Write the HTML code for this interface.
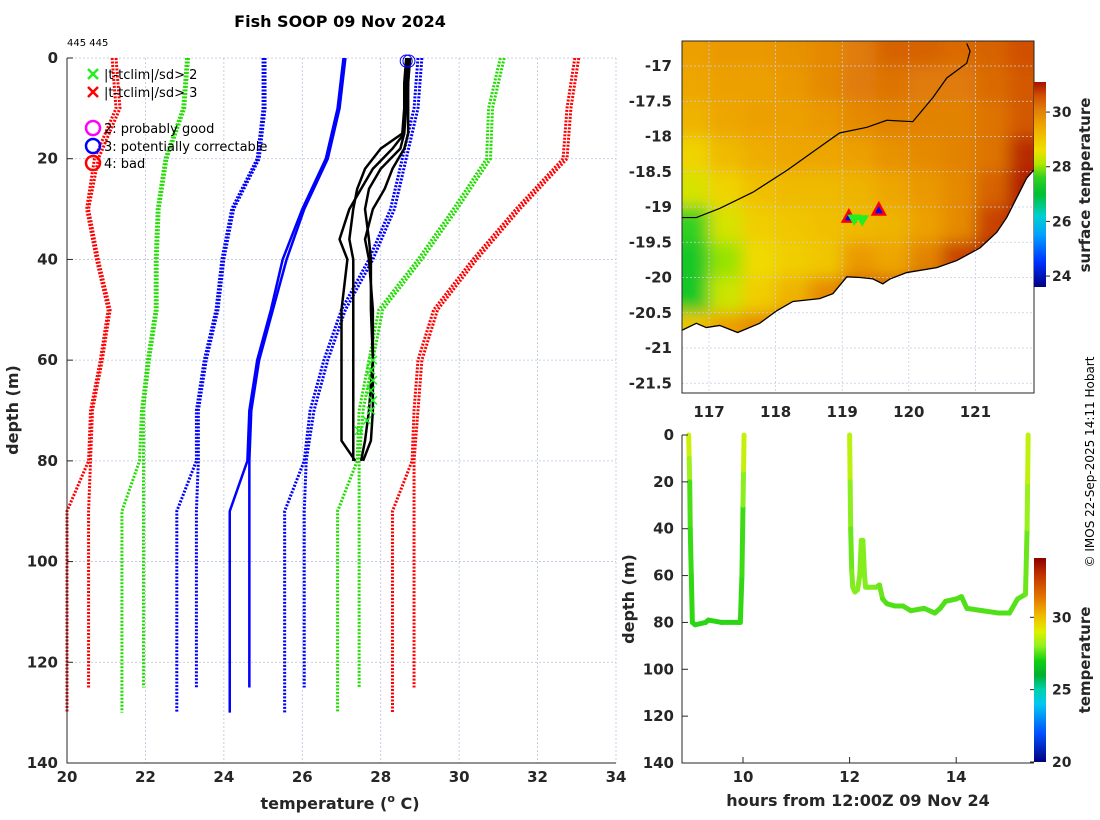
<!DOCTYPE html>
<html><head><meta charset="utf-8">
<style>
body{margin:0;background:#fff;}
svg{display:block;font-family:"DejaVu Sans","Liberation Sans",sans-serif;}
.tk{font-size:15px;font-weight:bold;fill:#262626;}
.lg{font-size:13px;fill:#000;}
</style></head>
<body>
<svg id="fig" width="1100" height="820" viewBox="0 0 1100 820" xmlns="http://www.w3.org/2000/svg">
<defs>
<clipPath id="mapclip"><rect x="682" y="41" width="352" height="352"/></clipPath>
<filter id="blur" x="-10%" y="-10%" width="120%" height="120%"><feGaussianBlur stdDeviation="8"/></filter>
<linearGradient id="cb1" x1="0" y1="1" x2="0" y2="0"></linearGradient>
<linearGradient id="cb2" x1="0" y1="1" x2="0" y2="0"></linearGradient>
</defs>
<text x="340" y="27" text-anchor="middle" style="font-size:16px;font-weight:bold">Fish SOOP 09 Nov 2024</text>
<text x="67" y="46" style="font-size:10px">445 445</text>
<g id="left"></g>
<g id="map"></g>
<g id="track"></g>
<text transform="translate(1094,462) rotate(-90)" text-anchor="middle" style="font-size:12px">© IMOS 22-Sep-2025 14:11 Hobart</text>
</svg>
<script>
// ---------- DATA: profile plot ----------
const climDepths = [0,10,20,30,40,50,60,70,80,90];
const redLoA = [21.15,21.25,20.7,20.5,20.75,21.05,20.85,20.6,20.55,20.0];
const redLoB = [21.25,21.35,20.8,20.55,20.8,21.1,20.9,20.65,20.6,20.55];
const grnLoA = [23.05,22.95,22.5,22.3,22.25,22.25,22.05,21.9,21.85,21.4];
const grnLoB = [23.1,23.0,22.55,22.35,22.3,22.3,22.1,21.95,21.95,21.95];
const bluLoA = [25.0,25.0,24.85,24.2,23.95,23.8,23.5,23.3,23.3,22.8];
const bluLoB = [25.05,25.05,24.9,24.25,24.0,23.85,23.55,23.35,23.35,23.3];
const meanA = [27.05,26.9,26.6,26.0,25.5,25.2,24.85,24.65,24.6,24.15];
const meanB = [27.1,26.95,26.65,26.05,25.6,25.25,24.9,24.7,24.65,24.65];
const bluHiA = [28.95,28.85,28.55,28.25,27.7,27.0,26.55,26.2,26.05,25.55];
const bluHiB = [29.05,28.95,28.65,28.35,27.8,27.1,26.65,26.3,26.1,26.05];
const grnHiA = [31.05,30.75,30.7,29.85,28.95,27.95,27.7,27.45,27.4,26.9];
const grnHiB = [31.15,30.85,30.8,29.95,29.05,28.05,27.8,27.55,27.45,27.45];
const redHiA = [32.95,32.75,32.65,31.45,30.35,29.35,28.95,28.85,28.8,28.3];
const redHiB = [33.05,32.85,32.75,31.55,30.45,29.45,29.05,28.95,28.85,28.85];
const climBottomA = 130, climBottomB = 125;
const profDepths = [0,5,10,15,18,22,26,30,36,40,50,60,70,76,80];
const prof1 = [28.65,28.6,28.6,28.6,28.3,27.8,27.5,27.2,26.95,27.15,27.0,27.0,27.0,27.0,27.35];
const prof2 = [28.7,28.65,28.6,28.55,28.0,27.6,27.4,27.3,27.2,27.3,27.3,27.3,27.3,27.3,27.3];
const prof3 = [28.7,28.7,28.65,28.6,28.5,28.0,27.7,27.6,27.7,27.75,27.75,27.8,27.7,27.6,27.5];
const prof4 = [28.75,28.7,28.7,28.7,28.6,28.3,28.1,27.8,27.6,27.7,27.8,27.8,27.8,27.75,27.55];
const flagDepths = [60,62,64,66,68,70,72,74];
const flagTemps = [27.8,27.75,27.8,27.75,27.8,27.75,27.65,27.45];
const xTicks = [20,22,24,26,28,30,32,34];
const yTicks = [0,20,40,60,80,100,120,140];

// ---------- DATA: map ----------
const mapLats = [-16.75,-17.25,-17.75,-18.25,-18.75,-19.25,-19.75,-20.25,-20.75];
const mapLons = [116.75,117.25,117.75,118.25,118.75,119.25,119.75,120.25,120.75,121.25,121.75];
const sstRows = [
 [29.6,29.7,29.7,29.8,29.9,30.1,30.4,30.4,30.3,30.4,30.6],
 [29.5,29.6,29.6,29.7,29.9,30.1,30.2,30.1,30.1,30.3,30.5],
 [29.3,29.5,29.6,29.6,29.7,29.9,30.0,30.0,30.0,30.2,30.5],
 [28.8,29.2,29.4,29.5,29.5,29.6,29.8,29.9,30.0,30.2,30.9],
 [28.4,28.8,29.1,29.2,29.2,29.3,29.5,29.7,29.9,30.4,31.0],
 [27.6,28.4,28.9,29.0,29.1,29.2,29.3,29.6,29.9,30.7,31.0],
 [27.3,28.0,28.7,28.9,29.0,29.7,29.5,30.0,30.7,31.0,31.0],
 [27.3,28.3,28.9,29.3,29.9,30.5,30.6,30.9,31.0,31.0,31.0],
 [29.0,29.6,29.9,30.3,30.6,30.7,30.9,31.0,31.0,31.0,31.0]];
const coastLon = [116.59,116.81,116.96,117.16,117.43,117.76,118.02,118.26,118.66,118.86,119.07,119.27,119.46,119.61,119.72,119.97,120.42,120.72,121.07,121.32,121.47,121.62,121.77,121.89];
const coastLat = [-20.75,-20.65,-20.71,-20.68,-20.78,-20.65,-20.47,-20.34,-20.30,-20.23,-19.99,-20.0,-20.02,-20.09,-20.02,-19.93,-19.86,-19.76,-19.58,-19.36,-19.15,-18.87,-18.59,-18.46];
const isoLon = [116.59,116.81,117.16,117.66,118.17,118.66,118.96,119.37,119.67,120.06,120.36,120.57,120.87,120.92,120.87];
const isoLat = [-19.15,-19.15,-19.02,-18.79,-18.48,-18.15,-17.95,-17.87,-17.77,-17.79,-17.45,-17.17,-16.96,-16.79,-16.68];
const shipLon = [119.1,119.55,119.3,119.18];
const shipLat = [-19.15,-19.05,-19.18,-19.17];
const lonTicks = [117,118,119,120,121];
const latTicks = [-17,-17.5,-18,-18.5,-19,-19.5,-20,-20.5,-21,-21.5];
const sstTicks = [24,26,28,30];

// ---------- DATA: depth-time track ----------
const trackHours = [8.98,8.99,9.0,9.01,9.03,9.05,9.1,9.3,9.35,9.6,9.9,9.95,9.98,10.0,10.01,10.02,
 12.0,12.01,12.02,12.04,12.06,12.1,12.15,12.19,12.22,12.25,12.28,12.3,12.35,12.5,12.56,12.62,12.7,12.85,13.0,13.15,13.4,13.6,13.7,13.8,14.0,14.1,14.2,14.5,14.8,15.0,15.15,15.3,15.33,15.34,15.35];
const trackDepth = [0,10,20,40,60,80,81,80,79,80,80,80,60,30,15,0,
 0,20,40,58,65,67,66,60,45,45,60,65,65,65,64,70,72,73,73,75,74,76,74,71,70,69,74,75,76,76,70,68,40,20,0];
const trackTemp = [28.8,28.7,27.6,27.3,27.3,27.2,27.2,27.2,27.2,27.2,27.2,27.2,27.3,27.4,28.5,28.8,
 28.8,28.3,27.6,27.8,27.9,27.9,27.9,27.9,27.9,27.9,27.9,27.9,27.9,27.8,27.8,27.6,27.5,27.5,27.5,27.5,27.5,27.5,27.5,27.5,27.5,27.5,27.5,27.5,27.5,27.5,27.6,27.6,27.8,28.4,28.8];
const hourTicks = [10,12,14];
const tTicks = [20,25,30];

// ---------- helpers ----------
const NS = "http://www.w3.org/2000/svg";
function mk(parent, tag, attrs, text){
  const e = document.createElementNS(NS, tag);
  for (const k in attrs) e.setAttribute(k, attrs[k]);
  if (text !== undefined) e.textContent = text;
  parent.appendChild(e);
  return e;
}
function lerpColor(stops, v){
  if (v <= stops[0][0]) return stops[0][1];
  for (let i=1;i<stops.length;i++){
    if (v <= stops[i][0]){
      const [a,ca]=stops[i-1],[b,cb]=stops[i];
      const t=(v-a)/(b-a);
      const p=c=>[parseInt(c.slice(1,3),16),parseInt(c.slice(3,5),16),parseInt(c.slice(5,7),16)];
      const A=p(ca),B=p(cb);
      return "rgb("+A.map((x,j)=>Math.round(x+(B[j]-x)*t)).join(",")+")";
    }
  }
  return stops[stops.length-1][1];
}
const sstStops=[[23.6,"#00007f"],[24.5,"#0030ff"],[25.5,"#00a0ff"],[26.2,"#00d0d0"],[27,"#00c030"],[27.6,"#30d020"],[28.1,"#b0e800"],[28.6,"#f0e000"],[29.1,"#f0c000"],[29.6,"#eca000"],[30.1,"#e07c08"],[30.6,"#d05000"],[31.1,"#a81000"]];
const tStops=[[20,"#000080"],[22,"#0050ff"],[24,"#00c8f0"],[25,"#00d0b0"],[26,"#00b030"],[27,"#10d010"],[28,"#90f020"],[29,"#e0f000"],[30,"#f0c000"],[31.5,"#e07000"],[33,"#c03000"],[34.1,"#8b0000"]];

// ---------- LEFT: profile plot ----------
const L = document.getElementById('left');
const px = t => 67 + (t-20)*(616-67)/14;
const py = d => 58 + d*(763-58)/140;
xTicks.forEach(t=>{
  let g=mk(L,'line',{x1:px(t),x2:px(t),y1:58,y2:763,stroke:'#b8c4dc','stroke-width':0.8,'stroke-dasharray':'2,2'});
  
  
  let tl=mk(L,'text',{x:px(t),y:782,'text-anchor':'middle',class:'tk'},String(t));
  
  
});
yTicks.forEach(d=>{
  let g=mk(L,'line',{x1:67,x2:616,y1:py(d),y2:py(d),stroke:'#b8c4dc','stroke-width':0.8,'stroke-dasharray':'2,2'});
  
  
  let tk=mk(L,'line',{x1:67,x2:73,y1:py(d),y2:py(d),stroke:'#262626'});
  
  
  let tl=mk(L,'text',{x:58,y:py(d)+5,'text-anchor':'end',class:'tk'},String(d));
  
  
});
const climSets=[[redLoA,redLoB,'#ff0000'],[grnLoA,grnLoB,'#22dd00'],[bluLoA,bluLoB,'#0000ff'],[meanA,meanB,'#0000ff',true],[bluHiA,bluHiB,'#0000ff'],[grnHiA,grnHiB,'#22dd00'],[redHiA,redHiB,'#ff0000']];
climSets.forEach(([A,B,col,solid])=>{
  [[A,climBottomA],[B,climBottomB]].forEach(([arr,bot])=>{
    let pts=climDepths.map((d,i)=>px(arr[i])+','+py(d));
    pts.push(px(arr[arr.length-1])+','+py(bot));
    let pl=mk(L,'polyline',{points:pts.join(' '),fill:'none',stroke:col,'stroke-width':solid?2.5:3,'stroke-dasharray':solid?'none':'2,1.5'});
    
    
  });
});
[prof1,prof2,prof3,prof4].forEach(p=>{
  let pl=mk(L,'polyline',{points:profDepths.map((d,i)=>px(p[i])+','+py(d)).join(' '),fill:'none',stroke:'#000','stroke-width':2.5,'stroke-linejoin':'round'});
  
  
});
flagDepths.forEach((d,i)=>{
  const x=px(flagTemps[i]),y=py(d);
  let m=mk(L,'path',{d:`M${x-4},${y-4}L${x+4},${y+4}M${x-4},${y+4}L${x+4},${y-4}`,stroke:'#22ee22','stroke-width':1.5});
  
  
});
[28.65,28.72].forEach(t=>{
  let c=mk(L,'circle',{cx:px(t),cy:py(0.6),r:6,fill:'none',stroke:'#0000ff','stroke-width':1});
  
  
});
let lbox=mk(L,'path',{d:'M67,58V763H616',fill:'none',stroke:'#262626','stroke-width':1});


const legend=[['x','#22ee22','|t-tclim|/sd> 2',74],['x','#ff0000','|t-tclim|/sd> 3',92],['o','#ff00ff','2: probably good',128],['o','#0000ff','3: potentially correctable',146],['o','#ff0000','4: bad',163]];
legend.forEach(([s,c,t,y])=>{
  const x=93;
  let m;
  if(s==='x') m=mk(L,'path',{d:`M${x-5},${y-5}L${x+5},${y+5}M${x-5},${y+5}L${x+5},${y-5}`,stroke:c,'stroke-width':2.5});
  else m=mk(L,'circle',{cx:x,cy:y,r:7,fill:'none',stroke:c,'stroke-width':2.5});
  
  
  let tx=mk(L,'text',{x:104,y:y+5,class:'lg'},t);
  
  
});
let xl=mk(L,'text',{x:340,y:809,'text-anchor':'middle',style:'font-size:16px;font-weight:bold;fill:#262626'});
xl.innerHTML='temperature (<tspan dy="-7" font-size="11">o</tspan><tspan dy="7"> C)</tspan>';


let yl=mk(L,'text',{transform:'translate(18,410) rotate(-90)','text-anchor':'middle',style:'font-size:16px;font-weight:bold;fill:#262626'},'depth (m)');



// ---------- MAP ----------
const M=document.getElementById('map');
const mx = lon => 709 + (lon-117)*66.6;
const my = lat => 66 + (-17-lat)*70.5;
const mg=mk(M,'g',{'clip-path':'url(#mapclip)'});
let bgr=mk(mg,'rect',{x:682,y:41,width:352,height:352,fill:'#e08010'});


const cells=mk(mg,'g',{filter:'url(#blur)'});
sstRows.forEach((row,ri)=>{
  row.forEach((v,ci)=>{
    let x0=mx(mapLons[ci]-0.25),x1=mx(mapLons[ci]+0.25),y0=my(mapLats[ri]+0.25),y1=my(mapLats[ri]-0.25);
    if(ci===0) x0-=30; if(ci===row.length-1) x1+=30; if(ri===0) y0-=30; if(ri===sstRows.length-1) y1+=30;
    let r=mk(cells,'rect',{x:x0,y:y0,width:x1-x0+0.5,height:y1-y0+0.5,fill:lerpColor(sstStops,v)});
    
    
  });
});
let landPts=coastLon.map((l,i)=>mx(l)+','+my(coastLat[i])).join(' ');
let land=mk(mg,'polygon',{points:landPts+' 1040,400 676,400',fill:'#fff'});


lonTicks.forEach(l=>{
  let g=mk(mg,'line',{x1:mx(l),x2:mx(l),y1:41,y2:393,stroke:'#c8cfe4','stroke-width':0.8,'stroke-dasharray':'2,2'});
  
  
});
latTicks.forEach(l=>{
  let g=mk(mg,'line',{x1:682,x2:1034,y1:my(l),y2:my(l),stroke:'#c8cfe4','stroke-width':0.8,'stroke-dasharray':'2,2'});
  
  
});
let coast=mk(mg,'polyline',{points:landPts,fill:'none',stroke:'#000','stroke-width':1.3});


let iso=mk(mg,'polyline',{points:isoLon.map((l,i)=>mx(l)+','+my(isoLat[i])).join(' '),fill:'none',stroke:'#000','stroke-width':1.2});


shipLon.forEach((l,i)=>{
  const x=mx(l),y=my(shipLat[i]);
  let m;
  if(i<2) m=mk(M,'path',{d:`M${x},${y-7}L${x+6},${y+4}L${x-6},${y+4}Z`,fill:'#0000ff',stroke:'#ff0000','stroke-width':2.5});
  else m=mk(M,'path',{d:`M${x},${y+6}L${x+6},${y-4}L${x-6},${y-4}Z`,fill:'#22ee22',stroke:'#22ee22','stroke-width':1});
  
  
});
let mframe=mk(M,'rect',{x:682,y:41,width:352,height:352,fill:'none',stroke:'#262626','stroke-width':1});


lonTicks.forEach(l=>{
  let t=mk(M,'text',{x:mx(l),y:417,'text-anchor':'middle',class:'tk'},String(l));
  
  
});
latTicks.forEach(l=>{
  let t=mk(M,'text',{x:672,y:my(l)+5,'text-anchor':'end',class:'tk'},String(l));
  
  
});
// SST colorbar
const g1=document.getElementById('cb1');
sstStops.forEach(([v,c])=>mk(g1,'stop',{offset:((v-23.6)/(31.1-23.6)),'stop-color':c}));
const sy=v=>287-(v-23.6)*(287-82)/(31.1-23.6);
let cb=mk(M,'rect',{x:1034,y:82,width:12,height:205,fill:'url(#cb1)'});


sstTicks.forEach(v=>{
  mk(M,'line',{x1:1046,x2:1050,y1:sy(v),y2:sy(v),stroke:'#262626'});
  let t=mk(M,'text',{x:1052,y:sy(v)+5,class:'tk',style:'font-size:14px'},String(v));
  
  
});
let sl=mk(M,'text',{transform:'translate(1090,185) rotate(-90)','text-anchor':'middle',style:'font-size:15px;font-weight:bold;fill:#262626'},'surface temperature');



// ---------- TRACK ----------
const T=document.getElementById('track');
const tx=h=>743+(h-10)*53.3;
const ty=d=>435+d*(763-435)/140;
for(let i=0;i<trackHours.length-1;i++){
  if(trackHours[i+1]-trackHours[i]>1) continue;
  let s=mk(T,'line',{x1:tx(trackHours[i]),y1:ty(trackDepth[i]),x2:tx(trackHours[i+1]),y2:ty(trackDepth[i+1]),stroke:lerpColor(tStops,(trackTemp[i]+trackTemp[i+1])/2),'stroke-width':5,'stroke-linecap':'round'});
  
  
}
let tax=mk(T,'path',{d:'M682,435V763H1034',fill:'none',stroke:'#262626','stroke-width':1});


yTicks.forEach(d=>{
  mk(T,'line',{x1:682,x2:688,y1:ty(d),y2:ty(d),stroke:'#262626'});
  let t=mk(T,'text',{x:674,y:ty(d)+5,'text-anchor':'end',class:'tk'},String(d));
  
  
});
hourTicks.forEach(h=>{
  mk(T,'line',{x1:tx(h),x2:tx(h),y1:763,y2:757,stroke:'#262626'});
  let t=mk(T,'text',{x:tx(h),y:782,'text-anchor':'middle',class:'tk'},String(h));
  
  
});
let txl=mk(T,'text',{x:858,y:806,'text-anchor':'middle',style:'font-size:16px;font-weight:bold;fill:#262626'},'hours from 12:00Z 09 Nov 24');


let tyl=mk(T,'text',{transform:'translate(634,599) rotate(-90)','text-anchor':'middle',style:'font-size:16px;font-weight:bold;fill:#262626'},'depth (m)');


const g2=document.getElementById('cb2');
tStops.forEach(([v,c])=>mk(g2,'stop',{offset:((v-20)/(34.1-20)),'stop-color':c}));
const cy2=v=>762-(v-20)*(762-558)/(34.1-20);
let cb2=mk(T,'rect',{x:1034,y:558,width:12,height:204,fill:'url(#cb2)'});


tTicks.forEach(v=>{
  mk(T,'line',{x1:1030,x2:1034,y1:cy2(v),y2:cy2(v),stroke:'#262626'});
  let t=mk(T,'text',{x:1052,y:cy2(v)+5,class:'tk',style:'font-size:14px'},String(v));
  
  
});
let tl2=mk(T,'text',{transform:'translate(1090,660) rotate(-90)','text-anchor':'middle',style:'font-size:15px;font-weight:bold;fill:#262626'},'temperature');


</script>
</body></html>
